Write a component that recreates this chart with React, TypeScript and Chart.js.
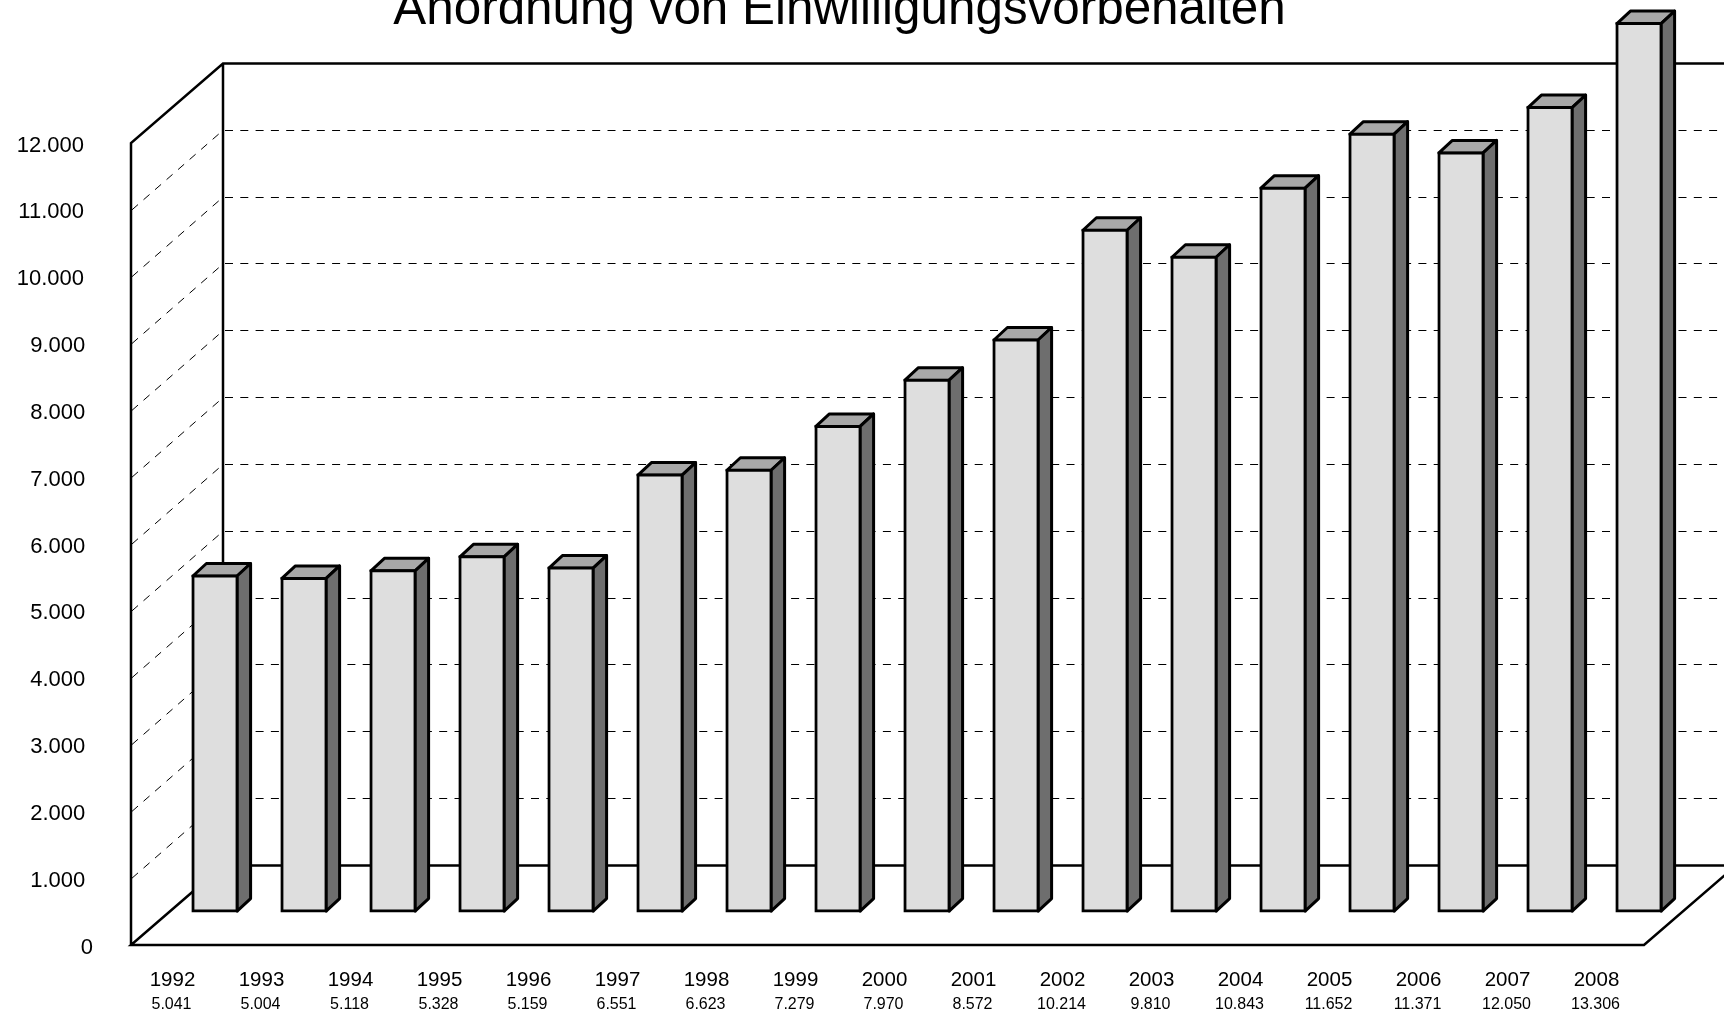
import React, { useEffect, useRef } from "react";
import { Chart, registerables } from "chart.js";

Chart.register(...registerables);

const TITLE = "Anordnung von Einwilligungsvorbehalten";
const years = ["1992","1993","1994","1995","1996","1997","1998","1999","2000","2001","2002","2003","2004","2005","2006","2007","2008"];
const values = [5041,5004,5118,5328,5159,6551,6623,7279,7970,8572,10214,9810,10843,11652,11371,12050,13306];
const valueLabels = ["5.041","5.004","5.118","5.328","5.159","6.551","6.623","7.279","7.970","8.572","10.214","9.810","10.843","11.652","11.371","12.050","13.306"];
const yTickLabels = ["0","1.000","2.000","3.000","4.000","5.000","6.000","7.000","8.000","9.000","10.000","11.000","12.000"];

const FONT = "'Liberation Sans', Arial, sans-serif";
const FACE = "#dedede";
const TOP = "#a8a8a8";
const SIDE = "#6e6e6e";
const WALL_DX = 92;
const WALL_DY = -79.5;
const BAR_SHIFT_X = 39.5;
const BAR_SHIFT_Y = -33;
const BAR_DX = 13.5;
const BAR_DY = -12.5;
const BAR_BORDER = 3;
const BAR_INFLATE = 0.6;
const TITLE_SHIFT = 17.5;

const box3d = {
  id: "box3d",
  afterLayout(chart: any) {
    const t = chart.titleBlock;
    if (t) {
      t.left += TITLE_SHIFT;
      t.right += TITLE_SHIFT;
    }
    // the reference nudges the short tick labels toward the axis
    const items = chart.scales.y.getLabelItems(chart.chartArea);
    items.forEach((item: any) => {
      const text = String(item.label);
      const nudge = text === "0" ? 9 : text.length === 5 ? 1.3 : 0;
      item.options.translation = [item.options.translation[0] + nudge, item.options.translation[1]];
    });
  },
  beforeDatasetsDraw(chart: any) {
    const { ctx, chartArea: a, scales } = chart;
    const y = scales.y;
    ctx.save();
    // dashed grid on back wall and left wall
    ctx.strokeStyle = "#000";
    ctx.lineWidth = 1;
    ctx.setLineDash([8, 7.3]);
    y.ticks.forEach((t: any) => {
      if (t.value <= 0 || t.value >= y.max) return;
      const py = y.getPixelForValue(t.value);
      const by = Math.floor(py + WALL_DY) + 0.5;
      ctx.beginPath();
      ctx.moveTo(a.left + WALL_DX + 2, by);
      ctx.lineTo(a.right + WALL_DX, by);
      ctx.stroke();
      ctx.beginPath();
      ctx.moveTo(a.left + 1, py);
      ctx.lineTo(a.left + WALL_DX, py + WALL_DY);
      ctx.stroke();
    });
    ctx.setLineDash([]);
    ctx.lineWidth = 2.5;
    ctx.lineJoin = "miter";
    // left wall, back wall, floor
    ctx.beginPath();
    ctx.moveTo(a.left, a.bottom);
    ctx.lineTo(a.left, a.top);
    ctx.lineTo(a.left + WALL_DX, a.top + WALL_DY);
    ctx.lineTo(a.right + WALL_DX, a.top + WALL_DY);
    ctx.moveTo(a.left + WALL_DX, a.top + WALL_DY);
    ctx.lineTo(a.left + WALL_DX, a.bottom + WALL_DY);
    ctx.lineTo(a.right + WALL_DX, a.bottom + WALL_DY);
    ctx.moveTo(a.left + WALL_DX, a.bottom + WALL_DY);
    ctx.lineTo(a.left, a.bottom);
    ctx.lineTo(a.right, a.bottom);
    ctx.lineTo(a.right + WALL_DX, a.bottom + WALL_DY);
    ctx.stroke();
    ctx.restore();

    // bars stand in a plane further back than the axis plane
    ctx.save();
    ctx.translate(BAR_SHIFT_X, BAR_SHIFT_Y);
    const meta = chart.getDatasetMeta(0);
    ctx.strokeStyle = "#000";
    ctx.lineWidth = BAR_BORDER;
    ctx.lineJoin = "round";
    const inset = BAR_BORDER / 2 - BAR_INFLATE;
    meta.data.forEach((bar: any) => {
      const l = bar.x - bar.width / 2 + inset;
      const r = bar.x + bar.width / 2 - inset;
      const t = bar.y + inset;
      const b = bar.base - inset;
      ctx.fillStyle = TOP;
      ctx.beginPath();
      ctx.moveTo(l, t);
      ctx.lineTo(l + BAR_DX, t + BAR_DY);
      ctx.lineTo(r + BAR_DX, t + BAR_DY);
      ctx.lineTo(r, t);
      ctx.closePath();
      ctx.fill();
      ctx.stroke();
      ctx.fillStyle = SIDE;
      ctx.beginPath();
      ctx.moveTo(r, t);
      ctx.lineTo(r + BAR_DX, t + BAR_DY);
      ctx.lineTo(r + BAR_DX, b + BAR_DY);
      ctx.lineTo(r, b);
      ctx.closePath();
      ctx.fill();
      ctx.stroke();
    });
  },
  afterDatasetsDraw(chart: any) {
    chart.ctx.restore();
  },
};

export default function App() {
  const ref = useRef<HTMLCanvasElement | null>(null);
  useEffect(() => {
    if (!ref.current) return;
    const chart = new Chart(ref.current, {
      type: "bar",
      data: {
        labels: years,
        datasets: [
          {
            label: "Einwilligungsvorbehalte",
            data: values,
            backgroundColor: FACE,
            borderColor: "#000",
            borderWidth: BAR_BORDER,
            borderSkipped: false,
            inflateAmount: BAR_INFLATE,
            barThickness: 46,
            clip: false,
          } as any,
        ],
      },
      plugins: [box3d],
      options: {
        animation: false,
        responsive: false,
        devicePixelRatio: 1,
        layout: { padding: { left: 0, right: 80, top: 0, bottom: 0 } },
        plugins: {
          legend: { display: false },
          tooltip: { enabled: false },
          title: {
            display: true,
            text: TITLE,
            color: "#000",
            font: { family: FONT, size: 49.4, weight: "normal", lineHeight: 1.2 },
            padding: { top: -19.7, bottom: 103.4 },
          },
        },
        scales: {
          x: {
            type: "category",
            position: "bottom",
            weight: 0,
            offset: true,
            grid: { display: false, drawTicks: false },
            border: { display: false },
            afterFit: (s: any) => { s.height = 47; },
            ticks: {
              color: "#000",
              font: { family: FONT, size: 20.5 },
              padding: 23,
              autoSkip: false,
              maxRotation: 0,
              labelOffset: -3,
            },
          },
          x2: {
            type: "category",
            position: "bottom",
            weight: 1,
            offset: true,
            labels: valueLabels,
            grid: { display: false, drawTicks: false },
            border: { display: false },
            afterFit: (s: any) => { s.height = 22; },
            ticks: {
              color: "#000",
              font: { family: FONT, size: 16 },
              padding: 2.5,
              autoSkip: false,
              maxRotation: 0,
              labelOffset: -4,
            },
          },
          y: {
            type: "linear",
            position: "left",
            min: 0,
            max: 12000,
            grid: { display: false, drawTicks: false },
            border: { display: false },
            afterFit: (s: any) => { s.width = 131; },
            ticks: {
              stepSize: 1000,
              color: "#000",
              font: { family: FONT, size: 22 },
              padding: 47,
              labelOffset: 2.5,
              callback: (_v: any, i: number) => yTickLabels[i],
            },
          },
        },
      },
    } as any);
    return () => chart.destroy();
  }, []);
  return (
    <div style={{ position: "fixed", left: 0, top: 0, width: 1724, height: 1014, overflow: "hidden", background: "#fff" }}>
      <canvas ref={ref} width={1724} height={1014} style={{ display: "block" }} />
    </div>
  );
}
